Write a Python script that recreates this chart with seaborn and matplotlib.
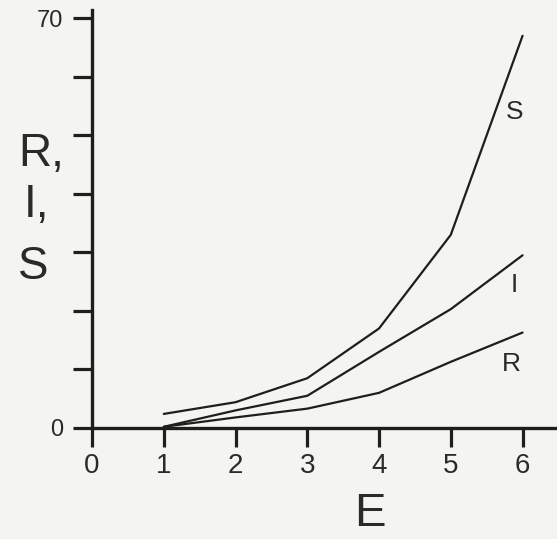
import pandas as pd
import seaborn as sns
import matplotlib.pyplot as plt

# values
E = [1, 2, 3, 4, 5, 6]
S = [2.4, 4.4, 8.5, 17.0, 33.0, 67.0]
I = [0.2, 3.0, 5.5, 13.0, 20.3, 29.5]
R = [0.2, 1.8, 3.3, 6.0, 11.3, 16.3]
series = ["S", "I", "R"]
x_ticks = [0, 1, 2, 3, 4, 5, 6]
y_ticks = [0, 10, 20, 30, 40, 50, 60, 70]
y_tick_labels = ["0", "", "", "", "", "", "", "70"]

df = pd.DataFrame({"E": E * 3,
                   "value": S + I + R,
                   "curve": ["S"] * 6 + ["I"] * 6 + ["R"] * 6})

sns.set_theme(style="ticks")
plt.rcParams["font.family"] = ["Liberation Sans", "DejaVu Sans"]
bg = "#f4f4f1"
ink = "#1e1e1e"
txt = "#2a2a2a"

fig = plt.figure(figsize=(5.57, 5.39), dpi=100, facecolor=bg)
ax = fig.add_axes([0.1652, 0.206, 0.8348, 0.7754])
ax.set_facecolor(bg)

sns.lineplot(data=df, x="E", y="value", hue="curve", hue_order=series,
             palette=[ink] * 3, linewidth=1.6, legend=False, ax=ax)

ax.set_xlim(0, 6.48)
ax.set_ylim(0, 71.4)
ax.set_xticks(x_ticks)
ax.set_yticks(y_ticks)
ax.set_yticklabels(y_tick_labels)
ax.tick_params(axis="x", length=14, width=2.3, pad=4, labelsize=20,
               color=ink, labelcolor=txt)
ax.tick_params(axis="y", length=14, width=2.3, pad=7, labelsize=17,
               color=ink, labelcolor=txt)
for side in ["top", "right"]:
    ax.spines[side].set_visible(False)
for side in ["left", "bottom"]:
    ax.spines[side].set_linewidth(2.4)
    ax.spines[side].set_color(ink)
ax.set_xlabel("")
ax.set_ylabel("")

# curve labels
ax.text(5.89, 54.0, "S", fontsize=19, ha="center", va="center", color=txt)
ax.text(5.89, 24.4, "I", fontsize=19, ha="center", va="center", color=txt)
ax.text(5.85, 10.9, "R", fontsize=19, ha="center", va="center", color=txt)

# axis titles
fig.text(18 / 557, 1 - 154 / 539, "R,", fontsize=33, ha="left", va="center", color=txt)
fig.text(24 / 557, 1 - 205 / 539, "I,", fontsize=33, ha="left", va="center", color=txt)
fig.text(18 / 557, 1 - 267 / 539, "S", fontsize=33, ha="left", va="center", color=txt)
fig.text(370 / 557, 1 - 514 / 539, "E", fontsize=34, ha="center", va="center", color=txt)

fig.savefig("out.png", dpi=100, facecolor=bg)
